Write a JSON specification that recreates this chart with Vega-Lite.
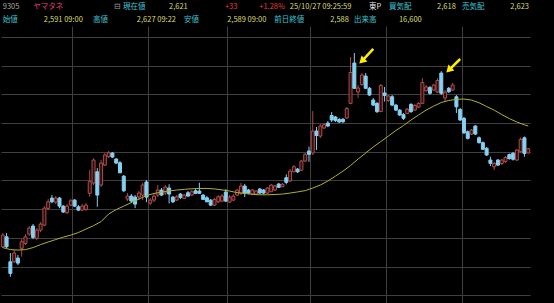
{
  "$schema": "https://vega.github.io/schema/vega-lite/v6.json",
  "background": "#000000",
  "padding": 0,
  "spacing": 0,
  "config": {"view": {"stroke": null}, "axis": {"minExtent": 0}},
  "datasets": {
    "header": [
      {"line": 1, "col": 0.5, "text": "9305", "role": "code"},
      {"line": 1, "col": 6.0, "text": "ヤマタネ", "role": "name"},
      {"line": 1, "col": 20.6, "text": "⊟", "role": "icon"},
      {"line": 1, "col": 22.2, "text": "現在値", "role": "label"},
      {"line": 1, "col": 30.5, "text": "2,621", "role": "value"},
      {"line": 1, "col": 40.6, "text": "+33", "role": "up"},
      {"line": 1, "col": 46.8, "text": "+1.28%", "role": "up"},
      {"line": 1, "col": 52.3, "text": "25/10/27 09:25:59", "role": "value"},
      {"line": 1, "col": 66.6, "text": "東P", "role": "market"},
      {"line": 1, "col": 70.2, "text": "買気配", "role": "label"},
      {"line": 1, "col": 78.9, "text": "2,618", "role": "value"},
      {"line": 1, "col": 83.4, "text": "売気配", "role": "label"},
      {"line": 1, "col": 92.1, "text": "2,623", "role": "value"},
      {"line": 2, "col": 0.5, "text": "始値", "role": "label"},
      {"line": 2, "col": 7.9, "text": "2,591 09:00", "role": "value"},
      {"line": 2, "col": 16.8, "text": "高値", "role": "label"},
      {"line": 2, "col": 24.7, "text": "2,627 09:22", "role": "value"},
      {"line": 2, "col": 33.2, "text": "安値", "role": "label"},
      {"line": 2, "col": 41.0, "text": "2,589 09:00", "role": "value"},
      {"line": 2, "col": 49.5, "text": "前日終値", "role": "label"},
      {"line": 2, "col": 59.6, "text": "2,588", "role": "value"},
      {"line": 2, "col": 63.9, "text": "出来高", "role": "label"},
      {"line": 2, "col": 72.0, "text": "16,600", "role": "value"}
    ],
    "arrows": [
      {"d": "2025-08-26", "p": 3316, "d2": "2025-08-21", "p2": 3232},
      {"d": "2025-09-30", "p": 3246, "d2": "2025-09-25", "p2": 3169}
    ],
    "candles": [
      {"d":"2025-04-03","o":1938,"h":2033,"l":1929,"c":2019,"ma":1932},
      {"d":"2025-04-04","o":2007,"h":2033,"l":1929,"c":1938},
      {"d":"2025-04-07","o":1833,"h":1894,"l":1729,"c":1752,"ma":1918},
      {"d":"2025-04-08","o":1833,"h":1915,"l":1824,"c":1894},
      {"d":"2025-04-09","o":1859,"h":1880,"l":1810,"c":1824,"ma":1915},
      {"d":"2025-04-10","o":1927,"h":1991,"l":1868,"c":1973},
      {"d":"2025-04-11","o":1961,"h":2026,"l":1950,"c":2007,"ma":1918},
      {"d":"2025-04-14","o":2026,"h":2082,"l":2012,"c":2068},
      {"d":"2025-04-15","o":2082,"h":2096,"l":1991,"c":2003,"ma":1932},
      {"d":"2025-04-16","o":1996,"h":2068,"l":1984,"c":2054},
      {"d":"2025-04-17","o":2054,"h":2110,"l":2040,"c":2096,"ma":1953},
      {"d":"2025-04-18","o":2089,"h":2221,"l":2082,"c":2207},
      {"d":"2025-04-21","o":2205,"h":2270,"l":2193,"c":2251,"ma":1971},
      {"d":"2025-04-22","o":2277,"h":2298,"l":2242,"c":2251},
      {"d":"2025-04-23","o":2249,"h":2291,"l":2235,"c":2277,"ma":1988},
      {"d":"2025-04-24","o":2277,"h":2284,"l":2207,"c":2221},
      {"d":"2025-04-25","o":2221,"h":2228,"l":2173,"c":2180,"ma":2005},
      {"d":"2025-04-28","o":2175,"h":2235,"l":2166,"c":2221},
      {"d":"2025-04-30","o":2228,"h":2270,"l":2221,"c":2258,"ma":2019},
      {"d":"2025-05-01","o":2263,"h":2270,"l":2214,"c":2221},
      {"d":"2025-05-02","o":2216,"h":2228,"l":2187,"c":2193,"ma":2037},
      {"d":"2025-05-07","o":2193,"h":2235,"l":2187,"c":2221},
      {"d":"2025-05-08","o":2198,"h":2242,"l":2187,"c":2228,"ma":2061},
      {"d":"2025-05-09","o":2310,"h":2472,"l":2286,"c":2391},
      {"d":"2025-05-12","o":2382,"h":2554,"l":2368,"c":2542,"ma":2085},
      {"d":"2025-05-13","o":2460,"h":2486,"l":2216,"c":2298},
      {"d":"2025-05-14","o":2368,"h":2542,"l":2354,"c":2521,"ma":2113},
      {"d":"2025-05-15","o":2507,"h":2591,"l":2500,"c":2577},
      {"d":"2025-05-16","o":2565,"h":2605,"l":2556,"c":2593,"ma":2166},
      {"d":"2025-05-19","o":2591,"h":2598,"l":2556,"c":2563},
      {"d":"2025-05-20","o":2549,"h":2556,"l":2514,"c":2521,"ma":2197},
      {"d":"2025-05-21","o":2523,"h":2535,"l":2451,"c":2453},
      {"d":"2025-05-22","o":2430,"h":2437,"l":2319,"c":2328,"ma":2221},
      {"d":"2025-05-23","o":2270,"h":2312,"l":2256,"c":2291},
      {"d":"2025-05-26","o":2291,"h":2305,"l":2242,"c":2256,"ma":2246},
      {"d":"2025-05-27","o":2284,"h":2298,"l":2207,"c":2235},
      {"d":"2025-05-28","o":2284,"h":2326,"l":2263,"c":2312,"ma":2270},
      {"d":"2025-05-29","o":2298,"h":2384,"l":2263,"c":2368},
      {"d":"2025-05-30","o":2389,"h":2403,"l":2249,"c":2284,"ma":2295},
      {"d":"2025-06-02","o":2242,"h":2277,"l":2228,"c":2263},
      {"d":"2025-06-03","o":2263,"h":2305,"l":2249,"c":2291,"ma":2309},
      {"d":"2025-06-04","o":2298,"h":2368,"l":2284,"c":2333},
      {"d":"2025-06-05","o":2333,"h":2347,"l":2291,"c":2298,"ma":2319},
      {"d":"2025-06-06","o":2312,"h":2368,"l":2298,"c":2354},
      {"d":"2025-06-09","o":2347,"h":2373,"l":2240,"c":2305,"ma":2327},
      {"d":"2025-06-10","o":2284,"h":2291,"l":2242,"c":2251},
      {"d":"2025-06-11","o":2263,"h":2298,"l":2256,"c":2286,"ma":2333},
      {"d":"2025-06-12","o":2305,"h":2312,"l":2270,"c":2282},
      {"d":"2025-06-13","o":2275,"h":2305,"l":2270,"c":2298,"ma":2338},
      {"d":"2025-06-16","o":2314,"h":2326,"l":2284,"c":2291},
      {"d":"2025-06-17","o":2298,"h":2333,"l":2291,"c":2321,"ma":2342},
      {"d":"2025-06-18","o":2328,"h":2340,"l":2305,"c":2310},
      {"d":"2025-06-19","o":2326,"h":2384,"l":2305,"c":2310,"ma":2344},
      {"d":"2025-06-20","o":2298,"h":2305,"l":2263,"c":2268},
      {"d":"2025-06-23","o":2279,"h":2291,"l":2249,"c":2251,"ma":2344},
      {"d":"2025-06-24","o":2263,"h":2270,"l":2221,"c":2228},
      {"d":"2025-06-25","o":2228,"h":2277,"l":2221,"c":2268,"ma":2341},
      {"d":"2025-06-26","o":2251,"h":2298,"l":2242,"c":2286},
      {"d":"2025-06-27","o":2256,"h":2305,"l":2249,"c":2291,"ma":2334},
      {"d":"2025-06-30","o":2319,"h":2340,"l":2249,"c":2256},
      {"d":"2025-07-01","o":2249,"h":2298,"l":2242,"c":2284,"ma":2326},
      {"d":"2025-07-02","o":2263,"h":2305,"l":2256,"c":2291},
      {"d":"2025-07-03","o":2298,"h":2340,"l":2291,"c":2333,"ma":2315},
      {"d":"2025-07-04","o":2312,"h":2382,"l":2298,"c":2361},
      {"d":"2025-07-07","o":2361,"h":2375,"l":2284,"c":2312,"ma":2309},
      {"d":"2025-07-08","o":2333,"h":2340,"l":2305,"c":2312},
      {"d":"2025-07-09","o":2305,"h":2340,"l":2298,"c":2333,"ma":2303},
      {"d":"2025-07-10","o":2305,"h":2333,"l":2298,"c":2326},
      {"d":"2025-07-11","o":2340,"h":2347,"l":2305,"c":2312,"ma":2300},
      {"d":"2025-07-14","o":2333,"h":2340,"l":2305,"c":2312},
      {"d":"2025-07-15","o":2312,"h":2354,"l":2305,"c":2347,"ma":2300},
      {"d":"2025-07-16","o":2321,"h":2375,"l":2319,"c":2368},
      {"d":"2025-07-17","o":2333,"h":2368,"l":2326,"c":2361,"ma":2302},
      {"d":"2025-07-18","o":2375,"h":2382,"l":2347,"c":2352},
      {"d":"2025-07-22","o":2356,"h":2382,"l":2354,"c":2373,"ma":2305},
      {"d":"2025-07-23","o":2419,"h":2442,"l":2373,"c":2387},
      {"d":"2025-07-24","o":2396,"h":2479,"l":2389,"c":2465,"ma":2312},
      {"d":"2025-07-25","o":2460,"h":2507,"l":2458,"c":2495},
      {"d":"2025-07-28","o":2479,"h":2486,"l":2451,"c":2460,"ma":2320},
      {"d":"2025-07-29","o":2472,"h":2542,"l":2465,"c":2535},
      {"d":"2025-07-30","o":2535,"h":2591,"l":2528,"c":2582,"ma":2329},
      {"d":"2025-07-31","o":2605,"h":2635,"l":2530,"c":2582},
      {"d":"2025-08-01","o":2591,"h":2883,"l":2577,"c":2744,"ma":2347},
      {"d":"2025-08-04","o":2744,"h":2772,"l":2612,"c":2713},
      {"d":"2025-08-05","o":2709,"h":2793,"l":2695,"c":2779,"ma":2368},
      {"d":"2025-08-06","o":2765,"h":2800,"l":2758,"c":2789},
      {"d":"2025-08-07","o":2800,"h":2814,"l":2772,"c":2779,"ma":2396},
      {"d":"2025-08-08","o":2852,"h":2876,"l":2807,"c":2821},
      {"d":"2025-08-12","o":2842,"h":2849,"l":2807,"c":2817,"ma":2430},
      {"d":"2025-08-13","o":2824,"h":2835,"l":2800,"c":2807},
      {"d":"2025-08-14","o":2826,"h":2835,"l":2800,"c":2809,"ma":2465},
      {"d":"2025-08-15","o":2835,"h":2911,"l":2828,"c":2901},
      {"d":"2025-08-18","o":2937,"h":3260,"l":2932,"c":3152,"ma":2504},
      {"d":"2025-08-19","o":3218,"h":3288,"l":3037,"c":3042},
      {"d":"2025-08-20","o":3016,"h":3065,"l":2974,"c":3044,"ma":2549},
      {"d":"2025-08-21","o":3068,"h":3148,"l":3058,"c":3134},
      {"d":"2025-08-22","o":3127,"h":3148,"l":3037,"c":3042,"ma":2591},
      {"d":"2025-08-25","o":3042,"h":3051,"l":2988,"c":2995},
      {"d":"2025-08-26","o":2960,"h":2974,"l":2918,"c":2925,"ma":2633},
      {"d":"2025-08-27","o":2937,"h":2946,"l":2870,"c":2879},
      {"d":"2025-08-28","o":2880,"h":3072,"l":2876,"c":3061,"ma":2671},
      {"d":"2025-08-29","o":3009,"h":3051,"l":2950,"c":2992},
      {"d":"2025-09-01","o":2957,"h":2995,"l":2946,"c":2988,"ma":2709},
      {"d":"2025-09-02","o":2983,"h":2995,"l":2918,"c":2925},
      {"d":"2025-09-03","o":2925,"h":2932,"l":2883,"c":2890,"ma":2748},
      {"d":"2025-09-04","o":2890,"h":2897,"l":2849,"c":2856},
      {"d":"2025-09-05","o":2859,"h":2870,"l":2821,"c":2833,"ma":2782},
      {"d":"2025-09-08","o":2867,"h":2904,"l":2862,"c":2897},
      {"d":"2025-09-09","o":2929,"h":2939,"l":2870,"c":2880,"ma":2821},
      {"d":"2025-09-10","o":2890,"h":2932,"l":2883,"c":2922},
      {"d":"2025-09-11","o":2911,"h":2946,"l":2904,"c":2937,"ma":2856},
      {"d":"2025-09-12","o":2937,"h":3113,"l":2932,"c":3082},
      {"d":"2025-09-16","o":3026,"h":3065,"l":3016,"c":3051,"ma":2890},
      {"d":"2025-09-17","o":3047,"h":3058,"l":2998,"c":3007},
      {"d":"2025-09-18","o":3030,"h":3072,"l":3023,"c":3065,"ma":2918},
      {"d":"2025-09-19","o":3016,"h":3113,"l":3009,"c":3096},
      {"d":"2025-09-22","o":3148,"h":3162,"l":2995,"c":3007,"ma":2943},
      {"d":"2025-09-24","o":2974,"h":3030,"l":2948,"c":3016},
      {"d":"2025-09-25","o":3042,"h":3051,"l":3009,"c":3018,"ma":2957},
      {"d":"2025-09-26","o":3030,"h":3079,"l":3023,"c":3065},
      {"d":"2025-09-29","o":2983,"h":2995,"l":2870,"c":2913,"ma":2965},
      {"d":"2025-09-30","o":2895,"h":2904,"l":2814,"c":2821},
      {"d":"2025-10-01","o":2833,"h":2842,"l":2723,"c":2732,"ma":2967},
      {"d":"2025-10-02","o":2739,"h":2748,"l":2685,"c":2693},
      {"d":"2025-10-03","o":2723,"h":2758,"l":2716,"c":2751,"ma":2960},
      {"d":"2025-10-06","o":2779,"h":2786,"l":2716,"c":2723},
      {"d":"2025-10-07","o":2697,"h":2706,"l":2657,"c":2663,"ma":2941},
      {"d":"2025-10-08","o":2663,"h":2671,"l":2612,"c":2617},
      {"d":"2025-10-09","o":2624,"h":2633,"l":2570,"c":2577,"ma":2915},
      {"d":"2025-10-10","o":2542,"h":2565,"l":2500,"c":2519},
      {"d":"2025-10-14","o":2495,"h":2528,"l":2472,"c":2519,"ma":2890},
      {"d":"2025-10-15","o":2542,"h":2549,"l":2500,"c":2507},
      {"d":"2025-10-16","o":2518,"h":2549,"l":2507,"c":2542,"ma":2859},
      {"d":"2025-10-17","o":2532,"h":2570,"l":2521,"c":2559},
      {"d":"2025-10-20","o":2580,"h":2587,"l":2545,"c":2552,"ma":2831},
      {"d":"2025-10-21","o":2589,"h":2598,"l":2538,"c":2547},
      {"d":"2025-10-22","o":2542,"h":2619,"l":2535,"c":2612,"ma":2807},
      {"d":"2025-10-23","o":2600,"h":2700,"l":2594,"c":2686},
      {"d":"2025-10-24","o":2697,"h":2706,"l":2565,"c":2588,"ma":2787},
      {"d":"2025-10-27","o":2591,"h":2627,"l":2589,"c":2621,"ma":2779}
    ]
  },
  "vconcat": [
    {
      "width": 554,
      "height": 26,
      "data": {"name": "header"},
      "mark": {"type": "text", "align": "left", "baseline": "middle", "font": "Noto Sans CJK JP", "fontSize": 7.5},
      "encoding": {
        "x": {"field": "col", "type": "quantitative", "scale": {"domain": [0, 100], "nice": false, "zero": false}, "axis": null},
        "y": {"field": "line", "type": "ordinal", "axis": null, "scale": {"paddingInner": 0, "paddingOuter": 0}},
        "text": {"field": "text"},
        "color": {
          "field": "role", "type": "nominal", "legend": null,
          "scale": {
            "domain": ["code", "name", "icon", "label", "value", "up", "market"],
            "range": ["#a8a8a8", "#e0407c", "#9a9a9a", "#3cc4d4", "#dcdc6a", "#e83a48", "#e6e6e6"]
          }
        }
      }
    },
    {
      "width": 554,
      "height": 277,
      "layer": [
        {
          "data": {"name": "candles"},
          "mark": {"type": "rule", "strokeWidth": 1},
          "encoding": {
            "x": {
              "field": "d", "type": "ordinal", "title": null,
              "scale": {"type": "band", "range": [0.91, 530.11], "paddingInner": 0, "paddingOuter": 0},
              "axis": {"values": ["2025-05-01", "2025-06-02", "2025-07-01", "2025-08-01", "2025-09-01", "2025-10-01"], "tickCount": 50, "bandPosition": 0, "grid": true, "gridColor": "#3f3f3f", "gridWidth": 1, "labels": false, "ticks": false, "domain": false, "title": null}
            },
            "y": {
              "field": "l", "type": "quantitative", "title": null,
              "scale": {"domain": [1546, 3476], "nice": false, "zero": false},
              "axis": {"values": [1600, 1800, 2000, 2200, 2400, 2600, 2800, 3000, 3200, 3400], "tickCount": 50, "grid": true, "gridColor": "#3f3f3f", "gridWidth": 1, "labels": false, "ticks": false, "domain": false, "title": null}
            },
            "y2": {"field": "h"},
            "color": {"condition": {"test": "datum.c >= datum.o", "value": "#a84a4a"}, "value": "#86d0f2"}
          }
        },
        {
          "data": {"name": "candles"},
          "mark": {"type": "bar", "width": 3, "strokeWidth": 1},
          "encoding": {
            "x": {"field": "d", "type": "ordinal"},
            "y": {"field": "o", "type": "quantitative"},
            "y2": {"field": "c"},
            "fill": {"condition": {"test": "datum.c >= datum.o", "value": "#2a1010"}, "value": "#86d0f2"},
            "stroke": {"condition": {"test": "datum.c >= datum.o", "value": "#b04c4c"}, "value": "#86d0f2"}
          }
        },
        {
          "data": {"name": "candles"},
          "transform": [{"filter": "isValid(datum.ma)"}],
          "mark": {"type": "line", "color": "#b0b030", "strokeWidth": 1},
          "encoding": {
            "x": {"field": "d", "type": "ordinal"},
            "y": {"field": "ma", "type": "quantitative"}
          }
        },
        {
          "data": {"name": "arrows"},
          "mark": {"type": "rule", "color": "#ffee00", "strokeWidth": 2.5},
          "encoding": {
            "x": {"field": "d", "type": "ordinal"},
            "y": {"field": "p", "type": "quantitative"},
            "x2": {"field": "d2"},
            "y2": {"field": "p2"}
          }
        },
        {
          "data": {"name": "arrows"},
          "mark": {"type": "point", "shape": "triangle-up", "filled": true, "color": "#ffee00", "opacity": 1, "size": 70, "angle": 225},
          "encoding": {
            "x": {"field": "d2", "type": "ordinal"},
            "y": {"field": "p2", "type": "quantitative"}
          }
        }
      ]
    }
  ]
}
